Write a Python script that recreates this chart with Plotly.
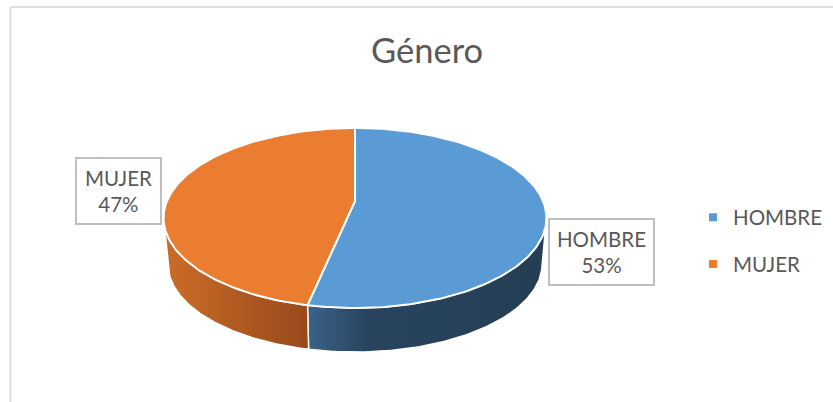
import numpy as np
import plotly.graph_objects as go

categories = ['HOMBRE', 'MUJER']
values = [53.3, 46.7]
colors = ['#5B9BD5', '#EB7D31']
title_text = 'Género'

# Side wall gradients, left to right
wall_scales = [
    [[0, '#3B6288'], [0.25, '#28445E'], [1, '#243E54']],
    [[0, '#CB6D28'], [1, '#98491C']],
]

TEXT = '#595959'
WIDTH, HEIGHT = 833, 402

# Perspective of the pie, in pixels
CX, CY = 355, 201
A, B, K = 86.8, 188, 0.1889
DEPTH, SHRINK = 46.5, 0.977


def project(theta, z=0):
    # theta clockwise from the top, in degrees; z=1 is the bottom disc
    t = np.radians(theta)
    d = 1 + K * np.cos(t)
    s = 1 - (1 - SHRINK) * z
    return CX + s * B * np.sin(t) / d, CY + DEPTH * z - s * A * np.cos(t) / d


fig = go.Figure()

edges = np.cumsum([0] + values) / sum(values) * 360
side_limit = np.degrees(np.arccos(-K))  # where the rim is widest

# Walls first, the top faces go over them
wall_spans = [(side_limit, edges[1]), (edges[1], 360 - side_limit)]
for (start, stop), scale in zip(wall_spans, wall_scales):
    th = np.linspace(start, stop, 90)
    x_top, y_top = project(th)
    x_bot, y_bot = project(th[::-1], 1)
    xs = np.concatenate([x_top, x_bot, x_top[:1]])
    ys = np.concatenate([y_top, y_bot, y_top[:1]])
    fig.add_trace(go.Scatter(
        x=xs, y=ys, mode='lines', fill='toself',
        line=dict(color='white', width=1.5),
        fillgradient=dict(type='horizontal', colorscale=scale,
                          start=float(xs.min()), stop=float(xs.max())),
        hoverinfo='skip', showlegend=False,
    ))

for i, name in enumerate(categories):
    th = np.linspace(edges[i], edges[i + 1], 180)
    x_rim, y_rim = project(th)
    fig.add_trace(go.Scatter(
        x=np.concatenate([[CX], x_rim, [CX]]),
        y=np.concatenate([[CY], y_rim, [CY]]),
        mode='lines', fill='toself', fillcolor=colors[i],
        line=dict(color='white', width=2),
        name=name, showlegend=False, hoverinfo='name',
    ))

# Legend
for name, color in zip(categories, colors):
    fig.add_trace(go.Scatter(
        x=[None], y=[None], mode='markers', name=name, legendgroup=name,
        marker=dict(symbol='square', size=8, color=color),
    ))

# Data labels
boxes = [(601.5, 252, 105), (118.5, 191, 85)]
for name, value, (bx, by, bw) in zip(categories, values, boxes):
    fig.add_annotation(
        x=bx, y=by, text=f'{name}<br>{round(value)}%', showarrow=False,
        width=bw - 4, height=62, align='center', valign='middle',
        font=dict(family='Lato', size=20.5, color=TEXT),
        bgcolor='white', bordercolor='#BFBFBF', borderwidth=2, borderpad=1,
    )

# Chart frame, open on the right and at the bottom
fig.add_shape(type='line', x0=10.5, x1=10.5, y0=402, y1=7, line=dict(color='#DDDDDD', width=2))
fig.add_shape(type='line', x0=10.5, x1=833, y0=7, y1=7, line=dict(color='#DDDDDD', width=2))

fig.update_layout(
    width=WIDTH, height=HEIGHT,
    margin=dict(l=0, r=0, t=0, b=0),
    paper_bgcolor='white', plot_bgcolor='white',
    title=dict(text=title_text, x=427 / WIDTH, xanchor='center', y=1 - 51 / HEIGHT, yanchor='middle',
               font=dict(family='Lato', size=34.5, color=TEXT)),
    xaxis=dict(range=[0, WIDTH], visible=False, fixedrange=True),
    yaxis=dict(range=[HEIGHT, 0], visible=False, fixedrange=True),
    legend=dict(x=693 / WIDTH, xanchor='left', y=1 - 241 / HEIGHT, yanchor='middle',
                font=dict(family='Lato', size=20.5, color=TEXT), tracegroupgap=17,
                bgcolor='rgba(0,0,0,0)'),
)

# the page's default body margin would push the chart 8px in
fig.write_html("out.html", config=dict(displayModeBar=False),
               post_script="document.body.style.margin = '0';")
